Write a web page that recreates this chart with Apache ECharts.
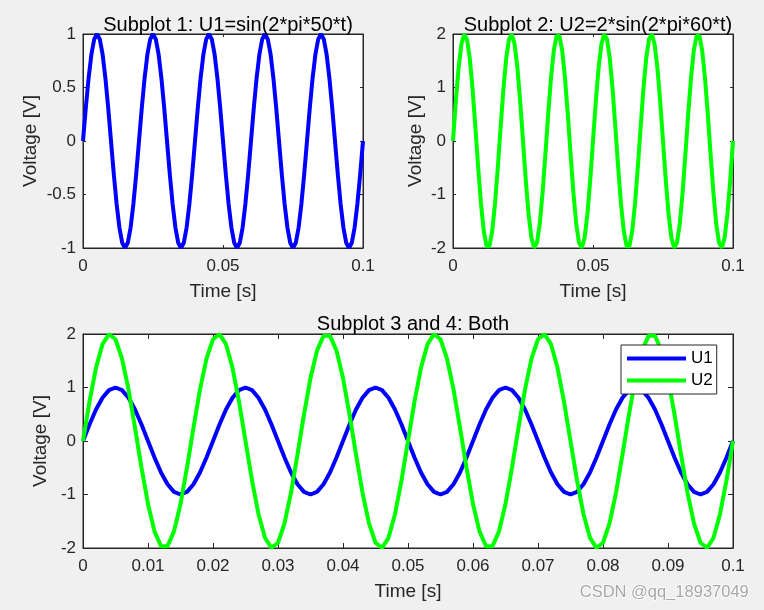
<!DOCTYPE html>
<html>
<head>
<meta charset="utf-8">
<script src="https://cdn.jsdelivr.net/npm/echarts@6/dist/echarts.min.js"></script>
<style>html,body{margin:0;padding:0;background:#f0f0f0;}#c{width:764px;height:610px;}</style>
</head>
<body>
<div id="c"></div>
<script>
// ---- data ----
const time = [
  0,0.001,0.002,0.003,0.004,0.005,0.006,0.007,0.008,0.009,
  0.010,0.011,0.012,0.013,0.014,0.015,0.016,0.017,0.018,0.019,
  0.020,0.021,0.022,0.023,0.024,0.025,0.026,0.027,0.028,0.029,
  0.030,0.031,0.032,0.033,0.034,0.035,0.036,0.037,0.038,0.039,
  0.040,0.041,0.042,0.043,0.044,0.045,0.046,0.047,0.048,0.049,
  0.050,0.051,0.052,0.053,0.054,0.055,0.056,0.057,0.058,0.059,
  0.060,0.061,0.062,0.063,0.064,0.065,0.066,0.067,0.068,0.069,
  0.070,0.071,0.072,0.073,0.074,0.075,0.076,0.077,0.078,0.079,
  0.080,0.081,0.082,0.083,0.084,0.085,0.086,0.087,0.088,0.089,
  0.090,0.091,0.092,0.093,0.094,0.095,0.096,0.097,0.098,0.099,
  0.100
];
const u1 = [
  0,0.309,0.588,0.809,0.951,1,0.951,0.809,0.588,0.309,0,-0.309,-0.588,-0.809,-0.951,-1,-0.951,-0.809,-0.588,-0.309,
  0,0.309,0.588,0.809,0.951,1,0.951,0.809,0.588,0.309,0,-0.309,-0.588,-0.809,-0.951,-1,-0.951,-0.809,-0.588,-0.309,
  0,0.309,0.588,0.809,0.951,1,0.951,0.809,0.588,0.309,0,-0.309,-0.588,-0.809,-0.951,-1,-0.951,-0.809,-0.588,-0.309,
  0,0.309,0.588,0.809,0.951,1,0.951,0.809,0.588,0.309,0,-0.309,-0.588,-0.809,-0.951,-1,-0.951,-0.809,-0.588,-0.309,
  0,0.309,0.588,0.809,0.951,1,0.951,0.809,0.588,0.309,0,-0.309,-0.588,-0.809,-0.951,-1,-0.951,-0.809,-0.588,-0.309,
  0
];
const u2 = [
  0,0.736,1.369,1.81,1.996,1.902,1.541,0.964,0.251,-0.497,-1.176,-1.689,-1.965,-1.965,-1.689,-1.176,-0.497,0.251,0.964,1.541,1.902,1.996,1.81,1.369,0.736,
  0,-0.736,-1.369,-1.81,-1.996,-1.902,-1.541,-0.964,-0.251,0.497,1.176,1.689,1.965,1.965,1.689,1.176,0.497,-0.251,-0.964,-1.541,-1.902,-1.996,-1.81,-1.369,-0.736,
  0,0.736,1.369,1.81,1.996,1.902,1.541,0.964,0.251,-0.497,-1.176,-1.689,-1.965,-1.965,-1.689,-1.176,-0.497,0.251,0.964,1.541,1.902,1.996,1.81,1.369,0.736,
  0,-0.736,-1.369,-1.81,-1.996,-1.902,-1.541,-0.964,-0.251,0.497,1.176,1.689,1.965,1.965,1.689,1.176,0.497,-0.251,-0.964,-1.541,-1.902,-1.996,-1.81,-1.369,-0.736,
  0
];
const xTicksTop = [0, 0.05, 0.1];
const xTicksBottom = [0, 0.01, 0.02, 0.03, 0.04, 0.05, 0.06, 0.07, 0.08, 0.09, 0.1];
const yTicks1 = [-1, -0.5, 0, 0.5, 1];
const yTicks2 = [-2, -1, 0, 1, 2];
const yTicks3 = [-2, -1, 0, 1, 2];
const titles = ['Subplot 1: U1=sin(2*pi*50*t)', 'Subplot 2: U2=2*sin(2*pi*60*t)', 'Subplot 3 and 4: Both'];
const seriesNames = ['U1', 'U2'];

// ---- chart ----
const FONT = 'Liberation Sans, Arial, sans-serif';
const AX = '#262626';
const pairs = (xs, ys) => xs.map((x, i) => [x, ys[i]]);

const grids = [
  {left: 83, top: 34, width: 280, height: 214},
  {left: 453, top: 34, width: 280, height: 214},
  {left: 83, top: 334, width: 650, height: 214}
];
const tickLens = [3, 3, 5];
const yNameGaps = [43, 28, 28];

function xAxes(gi, ticks) {
  const base = {
    type: 'value', gridIndex: gi, min: ticks[0], max: ticks[ticks.length - 1],
    interval: ticks[1] - ticks[0], splitLine: {show: false},
    axisLine: {show: true, onZero: false, lineStyle: {color: AX, width: 1}},
    axisTick: {show: true, inside: true, length: tickLens[gi], lineStyle: {color: AX}}
  };
  return [
    Object.assign({}, base, {
      position: 'bottom',
      axisLabel: {show: true, color: AX, fontSize: 17, fontFamily: FONT, margin: 10},
      name: 'Time [s]', nameLocation: 'middle', nameGap: 34,
      nameTextStyle: {color: AX, fontSize: 19, fontFamily: FONT}
    }),
    Object.assign({}, base, {position: 'top', axisLabel: {show: false}})
  ];
}
function yAxes(gi, ticks) {
  const base = {
    type: 'value', gridIndex: gi, min: ticks[0], max: ticks[ticks.length - 1],
    interval: ticks[1] - ticks[0], splitLine: {show: false},
    axisLine: {show: true, onZero: false, lineStyle: {color: AX, width: 1}},
    axisTick: {show: true, inside: true, length: tickLens[gi], lineStyle: {color: AX}}
  };
  return [
    Object.assign({}, base, {
      position: 'left',
      axisLabel: {show: true, color: AX, fontSize: 17, fontFamily: FONT, margin: 7},
      name: 'Voltage [V]', nameLocation: 'middle', nameGap: yNameGaps[gi],
      nameTextStyle: {color: AX, fontSize: 19, fontFamily: FONT}
    }),
    Object.assign({}, base, {position: 'right', axisLabel: {show: false}})
  ];
}

const xAxis = [].concat(xAxes(0, xTicksTop), xAxes(1, xTicksTop), xAxes(2, xTicksBottom));
const yAxis = [].concat(yAxes(0, yTicks1), yAxes(1, yTicks2), yAxes(2, yTicks3));

const lineBase = {type: 'line', symbol: 'none', showSymbol: false, clip: false, animation: false};
const LW = 4;
const titleStyle = {fontSize: 20, fontWeight: 'normal', color: '#000', fontFamily: FONT};

const option = {
  backgroundColor: '#f0f0f0',
  animation: false,
  title: [
    {text: titles[0], left: 223, top: 10, textAlign: 'center', textStyle: titleStyle},
    {text: titles[1], left: 593, top: 10, textAlign: 'center', textStyle: titleStyle},
    {text: titles[2], left: 408, top: 309, textAlign: 'center', textStyle: titleStyle}
  ],
  grid: grids.map(g => Object.assign({show: true, backgroundColor: '#ffffff', borderColor: AX, borderWidth: 1}, g)),
  xAxis: xAxis,
  yAxis: yAxis,
  legend: {
    data: seriesNames,
    orient: 'vertical',
    left: 621, top: 345,
    padding: [5, 4, 5, 6],
    itemGap: 5,
    icon: 'rect',
    itemWidth: 59, itemHeight: 4,
    backgroundColor: '#ffffff',
    borderColor: AX, borderWidth: 1, borderRadius: 0,
    textStyle: {color: '#000', fontSize: 17, fontFamily: FONT},
    selectedMode: false
  },
  series: [
    Object.assign({}, lineBase, {name: 'sub1', xAxisIndex: 0, yAxisIndex: 0, data: pairs(time, u1), lineStyle: {color: '#0000ff', width: LW}, itemStyle: {color: '#0000ff'}}),
    Object.assign({}, lineBase, {name: 'sub2', xAxisIndex: 2, yAxisIndex: 2, data: pairs(time, u2), lineStyle: {color: '#00ff00', width: LW}, itemStyle: {color: '#00ff00'}}),
    Object.assign({}, lineBase, {name: seriesNames[0], xAxisIndex: 4, yAxisIndex: 4, data: pairs(time, u1), lineStyle: {color: '#0000ff', width: LW}, itemStyle: {color: '#0000ff'}}),
    Object.assign({}, lineBase, {name: seriesNames[1], xAxisIndex: 4, yAxisIndex: 4, data: pairs(time, u2), lineStyle: {color: '#00ff00', width: LW}, itemStyle: {color: '#00ff00'}})
  ],
  graphic: [
    {type: 'text', left: 579, top: 583, z: 100,
     style: {text: 'CSDN @qq_18937049', fontSize: 16.5, fontFamily: FONT, fill: '#a6a6a6', stroke: '#ffffff', lineWidth: 1.5}}
  ]
};

const chart = echarts.init(document.getElementById('c'), null, {renderer: 'canvas'});
chart.setOption(option);
</script>
</body>
</html>
